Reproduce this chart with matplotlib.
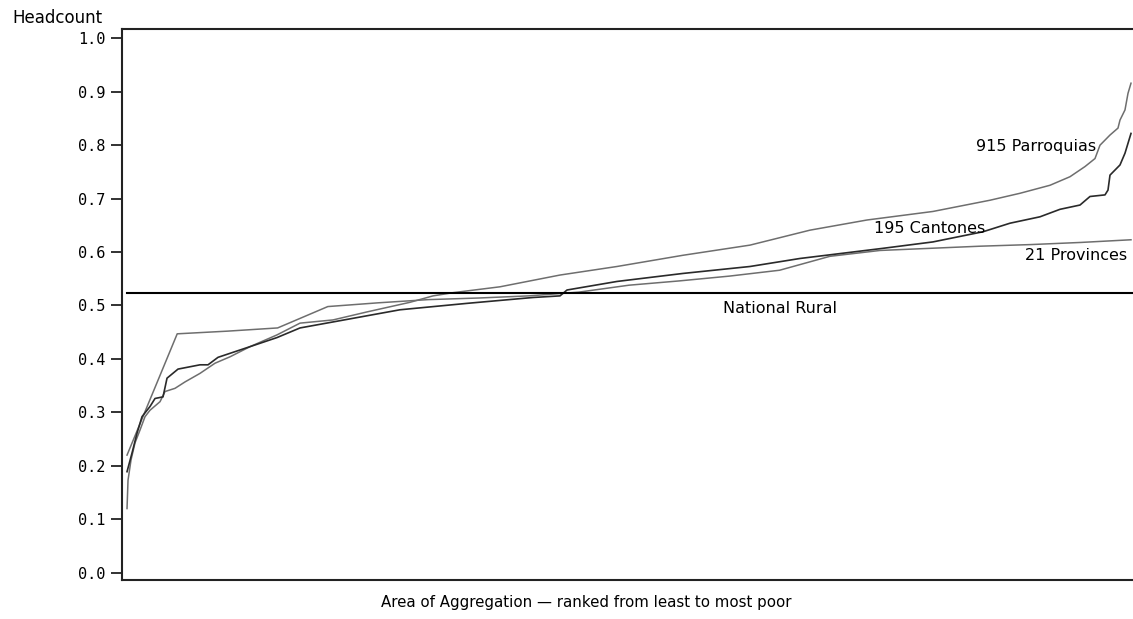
import matplotlib
matplotlib.use("Agg")
import matplotlib.pyplot as plt
import numpy as np

# ---- data (rank position as share of areas, headcount) ----
prov_values = [0.220, 0.447, 0.452, 0.458, 0.498, 0.505, 0.511, 0.514, 0.518,
               0.525, 0.538, 0.546, 0.555, 0.566, 0.592, 0.603, 0.607, 0.611,
               0.614, 0.618, 0.623]

cant_rank = [0, 5, 10, 15, 23, 28, 36, 40, 51, 73, 81, 91, 123, 150, 173, 223,
             273, 340, 406, 433, 440, 490, 556, 623, 673, 756, 806, 856, 883,
             913, 933, 953, 963, 978, 981, 983, 993, 998, 1004]
cant_values = [0.189, 0.224, 0.261, 0.292, 0.311, 0.326, 0.329, 0.364, 0.381,
               0.389, 0.389, 0.403, 0.423, 0.440, 0.458, 0.475, 0.492, 0.504,
               0.515, 0.518, 0.529, 0.545, 0.560, 0.573, 0.588, 0.607, 0.619,
               0.638, 0.654, 0.666, 0.680, 0.688, 0.704, 0.707, 0.716, 0.744,
               0.763, 0.785, 0.822]

parr_rank = [0, 1, 4, 8, 13, 18, 23, 33, 38, 48, 58, 73, 88, 103, 123, 150,
             173, 206, 240, 283, 306, 326, 373, 433, 490, 556, 623, 683, 740,
             806, 863, 893, 923, 943, 958, 968, 973, 983, 991, 993, 998, 1001,
             1004]
parr_values = [0.120, 0.173, 0.211, 0.243, 0.267, 0.292, 0.304, 0.320, 0.339,
               0.345, 0.357, 0.373, 0.392, 0.404, 0.423, 0.445, 0.467, 0.473,
               0.488, 0.506, 0.518, 0.524, 0.535, 0.557, 0.573, 0.594, 0.613,
               0.641, 0.660, 0.676, 0.697, 0.710, 0.725, 0.741, 0.760, 0.775,
               0.800, 0.819, 0.832, 0.847, 0.866, 0.897, 0.916]

national_rural = 0.523
yticks = [0.0, 0.1, 0.2, 0.3, 0.4, 0.5, 0.6, 0.7, 0.8, 0.9, 1.0]
ytick_labels = ["0.0", "0.1", "0.2", "0.3", "0.4", "0.5", "0.6", "0.7", "0.8", "0.9", "1.0"]

# ---- figure ----
W, H = 1133, 619
fig = plt.figure(figsize=(W / 100, H / 100), dpi=100)
ax = fig.add_axes([122 / W, 1 - 580 / H, 1 - 122 / W, (580 - 28.7) / H])

prov_x = np.linspace(0, 1, len(prov_values))
cant_x = np.array(cant_rank) / 1004.0
parr_x = np.array(parr_rank) / 1004.0

gray = "#6e6e6e"
dark = "#2a2a2a"
ax.plot(parr_x, parr_values, color=gray, lw=1.1)
ax.plot(prov_x, prov_values, color=gray, lw=1.1)
ax.plot(cant_x, cant_values, color=dark, lw=1.2)
ax.plot([0, 1.01], [national_rural, national_rural], color="black", lw=1.5)

ax.set_xlim(-0.005, 1.002)
ax.set_ylim(-0.0137, 1.018)
ax.set_xticks([])
ax.set_yticks(yticks)
ax.set_yticklabels(ytick_labels, family="DejaVu Sans Mono", fontsize=11)
ax.tick_params(axis="y", direction="out", length=8, width=1.3, pad=4, color="#222222")

for s in ["left", "bottom", "top"]:
    ax.spines[s].set_linewidth(1.5)
    ax.spines[s].set_color("#222222")
ax.spines["right"].set_visible(False)

fs = 11.5
fig.text(12 / W, 1 - 18 / H, "Headcount", fontsize=12, ha="left", va="center")
fig.text(586 / W, 1 - 603 / H, "Area of Aggregation \u2014 ranked from least to most poor",
         fontsize=10.8, ha="center", va="center")

def px(xp, yp):
    return ((xp - 127) / 1004.0, (572.7 - yp) / 534.4)

ax.text(*px(1096, 146), "915 Parroquias", fontsize=fs, ha="right", va="center")
ax.text(*px(985, 228), "195 Cantones", fontsize=fs, ha="right", va="center")
ax.text(*px(1127, 255), "21 Provinces", fontsize=fs, ha="right", va="center")
ax.text(*px(780, 309), "National Rural", fontsize=fs, ha="center", va="center")

fig.savefig("out.png", dpi=100)
